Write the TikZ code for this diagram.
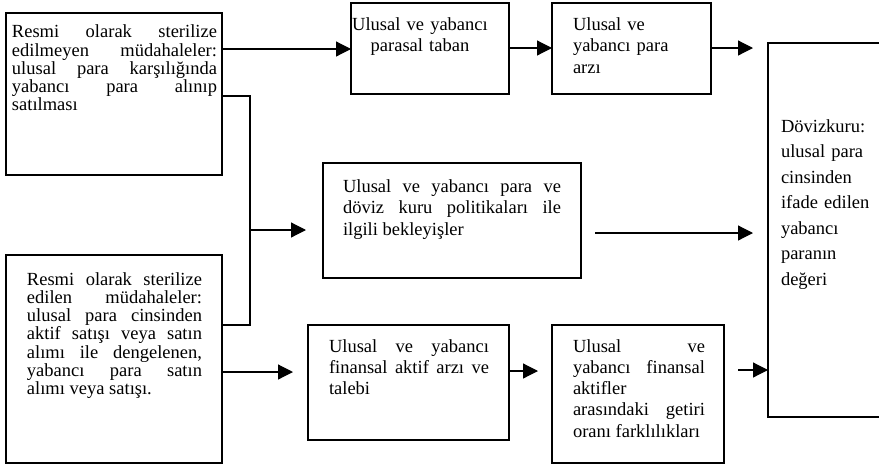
\documentclass[tikz,border=0pt]{standalone}
\usepackage{fontspec}
\setmainfont{Liberation Serif}
\usetikzlibrary{arrows.meta}
\tolerance=10000
\hbadness=10000
\hyphenpenalty=10000
\exhyphenpenalty=10000
\begin{document}
\begin{tikzpicture}[x=1pt,y=-1pt,
  box/.style={draw, line width=1.2pt, rectangle, inner sep=0pt, outer sep=0pt, anchor=north west},
  txt/.style={inner sep=0pt, outer sep=0pt, anchor=base west, align=justify},
  arr/.style={line width=1.2pt, -{Triangle[length=15pt,width=15pt]}},
  ln/.style={line width=1.2pt}]
\useasboundingbox (0,0) rectangle (879,464);
% boxes
\node[box, minimum width=216pt, minimum height=162pt] (A) at (6,13) {};
\node[box, minimum width=216pt, minimum height=208pt] (B) at (6,255) {};
\node[box, minimum width=158pt, minimum height=91pt] (C) at (351,3) {};
\node[box, minimum width=159pt, minimum height=91pt] (D) at (552,3) {};
\node[box, draw=none, minimum width=111pt, minimum height=374pt] (E) at (768,43) {};
\draw[ln] (E.north east) -- (E.north west) -- (E.south west) -- (E.south east);
\node[box, minimum width=258pt, minimum height=115pt] (F) at (323,163) {};
\node[box, minimum width=201pt, minimum height=115pt] (G) at (308,325) {};
\node[box, minimum width=172pt, minimum height=138pt] (H) at (552,325) {};
% texts
\node[txt, text width=205pt, font=\fontsize{18.5}{18.3}\selectfont] (At) at (12,37.7)
  {Resmi olarak sterilize\linebreak edilmeyen müdahaleler:\linebreak ulusal para karşılığında\linebreak yabancı para alınıp\linebreak satılması};
\node[txt, text width=175pt, font=\fontsize{18.5}{18.25}\selectfont] (Bt) at (27,285)
  {Resmi olarak sterilize\linebreak edilen müdahaleler:\linebreak ulusal para cinsinden\linebreak aktif satışı veya satın\linebreak alımı ile dengelenen,\linebreak yabancı para satın\linebreak alımı veya satışı.};
\node[txt, anchor=base, align=center, text width=170pt, font=\fontsize{18.5}{21.7}\selectfont] (Ct) at (420,30)
  {Ulusal ve yabancı\\ parasal taban};
\node[txt, align=left, text width=130pt, font=\fontsize{18.5}{21.7}\selectfont] (Dt) at (573,30)
  {Ulusal ve\\ yabancı para\\ arzı};
\node[txt, align=left, text width=95pt, font=\fontsize{18.5}{25.5}\selectfont] (Et) at (781,132)
  {Dövizkuru:\\ ulusal para\\ cinsinden\\ ifade edilen\\ yabancı\\ paranın\\ değeri};
\node[txt, text width=218pt, font=\fontsize{18.5}{21.5}\selectfont] (Ft) at (343,192)
  {Ulusal ve yabancı para ve\linebreak döviz kuru politikaları ile\linebreak ilgili bekleyişler};
\node[txt, text width=160pt, font=\fontsize{18.5}{21.3}\selectfont] (Gt) at (329,352)
  {Ulusal ve yabancı\linebreak finansal aktif arzı ve\linebreak talebi};
\node[txt, text width=132pt, font=\fontsize{18.5}{21.3}\selectfont] (Ht) at (573,352)
  {Ulusal ve\linebreak yabancı finansal\linebreak aktifler\linebreak arasındaki getiri\linebreak oranı farklılıkları};
% coordinates
\coordinate (j1) at (250,96);
\coordinate (j2) at (250,325);
\coordinate (j3) at (250,230);
\coordinate (fIn) at (306,230);
\coordinate (dE) at (753,48);
\coordinate (mS) at (595,233);
\coordinate (mE) at (753,233);
\coordinate (gIn) at (293,372);
\coordinate (hIn) at (538,371);
\coordinate (hOut) at (738,370);
% connectors
\draw[arr] (A.east |- 0,49) -- (C.west |- 0,49);
\draw[arr] (C.east |- 0,48) -- (D.west |- 0,48);
\draw[arr] (D.east |- dE) -- (dE);
\draw[ln] (A.east |- j1) -- (j1) -- (j2) -- (B.east |- j2);
\draw[arr] (j3) -- (fIn);
\draw[arr] (mS) -- (mE);
\draw[arr] (B.east |- gIn) -- (gIn);
\draw[arr] (G.east |- hIn) -- (hIn);
\draw[arr] (hOut) -- (E.west |- hOut);
\end{tikzpicture}
\end{document}
